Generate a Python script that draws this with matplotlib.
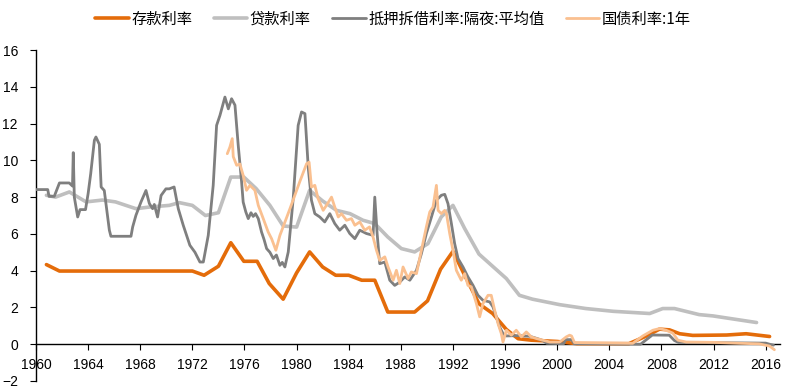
import matplotlib
matplotlib.use("Agg")
import matplotlib.pyplot as plt

plt.rcParams['font.family'] = ['Noto Sans CJK SC', 'DejaVu Sans']

# 存款利率
deposit_year = [1960.8, 1961.8, 1972.0, 1972.9, 1974.0, 1974.95, 1975.95, 1976.97, 1977.9, 1978.97,
                1980.0, 1981.0, 1982.0, 1983.0, 1984.0, 1985.0, 1986.0, 1987.0, 1989.06, 1990.05,
                1991.05, 1992.0, 1992.9, 1994.0, 1995.05, 1996.1, 1997.0, 1998.0, 2000.0, 2001.5,
                2005.5, 2006.06, 2006.83, 2007.85, 2008.62, 2009.4, 2010.4, 2013.0, 2014.5, 2016.3]
deposit_rate = [4.33, 3.98, 3.98, 3.75, 4.24, 5.52, 4.51, 4.51, 3.30, 2.45,
                3.88, 5.02, 4.2, 3.75, 3.75, 3.48, 3.48, 1.75, 1.75, 2.36,
                4.08, 5.05, 3.75, 2.2, 1.67, 0.8, 0.3, 0.22, 0.15, 0.03,
                0.03, 0.2, 0.44, 0.82, 0.78, 0.57, 0.48, 0.5, 0.57, 0.42]

# 贷款利率
loan_year = [1960.8, 1961.5, 1962.56, 1963.84, 1965.1, 1966.1, 1967.67, 1968.7, 1970.23, 1971.0,
             1972.0, 1973.0, 1974.0, 1974.95, 1975.95, 1976.9, 1977.95, 1978.97, 1980.0, 1981.0,
             1982.0, 1983.06, 1984.1, 1985.1, 1986.0, 1987.0, 1988.04, 1989.06, 1990.08, 1991.1,
             1992.0, 1992.9, 1994.0, 1996.1, 1997.1, 1998.1, 2000.2, 2002.2, 2004.3, 2007.1,
             2008.1, 2009.0, 2010.9, 2011.95, 2015.3]
loan_rate = [8.1, 8.0, 8.28, 7.74, 7.84, 7.74, 7.37, 7.46, 7.55, 7.7,
             7.55, 7.0, 7.15, 9.09, 9.09, 8.46, 7.55, 6.43, 6.37, 8.37,
             7.79, 7.28, 7.1, 6.74, 6.56, 5.83, 5.2, 5.02, 5.47, 6.92,
             7.55, 6.29, 4.9, 3.57, 2.66, 2.45, 2.15, 1.94, 1.79, 1.67,
             1.94, 1.94, 1.61, 1.54, 1.18]

# 抵押拆借利率:隔夜:平均值
call_year = [1960.0, 1960.9, 1961.0, 1961.4, 1961.8, 1962.55, 1962.8, 1962.86, 1962.94, 1963.2,
             1963.38, 1963.8, 1964.0, 1964.2, 1964.48, 1964.6, 1964.86, 1965.0, 1965.24, 1965.63,
             1965.75, 1967.29, 1967.42, 1967.67, 1968.06, 1968.44, 1968.7, 1968.95, 1969.08, 1969.33,
             1969.6, 1969.97, 1970.23, 1970.6, 1970.92, 1971.3, 1971.81, 1972.2, 1972.58, 1972.84,
             1973.22, 1973.6, 1973.86, 1974.12, 1974.5, 1974.76, 1975.01, 1975.27, 1975.52, 1975.78,
             1975.9, 1976.1, 1976.29, 1976.5, 1976.67, 1976.85, 1977.06, 1977.31, 1977.5, 1977.7,
             1977.95, 1978.21, 1978.45, 1978.72, 1978.9, 1979.1, 1979.36,
             1979.74, 1980.12, 1980.38, 1980.64, 1980.9, 1981.14, 1981.4, 1981.78, 1982.16, 1982.55,
             1982.93, 1983.31, 1983.7, 1984.08, 1984.47, 1984.85, 1985.36, 1985.87, 1986.0, 1986.18,
             1986.38, 1986.77, 1987.15, 1987.53, 1987.92, 1988.3, 1988.69, 1989.2, 1989.58, 1989.96,
             1990.35, 1990.73, 1991.11, 1991.37, 1991.62, 1991.88, 1992.13, 1992.39, 1992.77, 1993.15,
             1993.54, 1993.92, 1994.3, 1994.82, 1995.07, 1995.33, 1995.58, 1995.84, 1996.1, 1997.0,
             1997.9, 1998.5, 1998.9, 1999.2, 2000.5, 2000.65, 2001.1, 2001.3, 2006.4, 2006.9,
             2007.3, 2008.6, 2009.0, 2009.3, 2016.0, 2016.3, 2016.6]
call_rate = [8.41, 8.41, 8.04, 8.04, 8.77, 8.77, 8.6, 10.42, 8.0, 6.92,
             7.32, 7.32, 8.19, 9.28, 11.09, 11.27, 10.87, 8.55, 8.36, 6.2,
             5.87, 5.87, 6.38, 7.01, 7.74, 8.36, 7.65, 7.37, 7.6, 6.92,
             8.09, 8.45, 8.45, 8.55, 7.37, 6.47, 5.38, 5.0, 4.47, 4.47,
             5.92, 8.64, 11.9, 12.45, 13.44, 12.8, 13.35, 13.0, 10.82, 8.82,
             7.73, 7.2, 6.83, 7.15, 6.95, 7.1, 6.83, 6.1, 5.7, 5.2,
             5.0, 4.66, 4.85, 4.29, 4.45, 4.2, 5.02,
             7.92, 11.9, 12.63, 12.54, 9.55, 7.83, 7.1, 6.92, 6.65, 7.1,
             6.56, 6.2, 6.47, 6.02, 5.74, 6.2, 6.02, 5.92, 8.0, 6.02,
             4.38, 4.47, 3.48, 3.2, 3.38, 3.66, 3.48, 4.02, 4.93, 6.02,
             6.92, 7.83, 8.1, 8.15, 7.64, 6.56, 5.47, 4.66, 4.2, 3.66,
             3.2, 2.66, 2.39, 2.3, 2.03, 1.49, 0.94, 0.58, 0.45, 0.47,
             0.43, 0.3, 0.2, 0.05, 0.03, 0.25, 0.25, 0.03, 0.0, 0.28,
             0.5, 0.49, 0.2, 0.1, 0.06, 0.0, -0.05]

# 国债利率:1年
jgb_year = [1974.68, 1974.88, 1975.06, 1975.14, 1975.4, 1975.65, 1975.9, 1976.16, 1976.42, 1976.8,
            1977.06, 1977.44, 1977.82, 1978.08, 1978.41, 1978.72, 1979.49, 1980.25, 1980.77, 1980.96,
            1981.14, 1981.4, 1981.65, 1982.04, 1982.29, 1982.68, 1982.93, 1983.2, 1983.44, 1983.83,
            1984.21, 1984.47, 1984.85, 1985.23, 1985.6, 1985.87, 1986.13, 1986.38, 1986.77, 1987.02,
            1987.41, 1987.66, 1987.92, 1988.17, 1988.56, 1988.81, 1989.2, 1989.58, 1989.96, 1990.22,
            1990.47, 1990.73, 1990.86, 1991.11, 1991.37, 1991.5, 1991.75, 1992.0, 1992.26, 1992.64,
            1992.9, 1993.15, 1993.41, 1993.8, 1994.05, 1994.3, 1994.69, 1994.94, 1995.2, 1995.46,
            1995.71, 1995.84, 1996.1, 1996.48, 1996.86, 1997.25, 1997.63, 1998.01, 1998.4, 1998.9,
            1999.42, 2000.19, 2000.7, 2000.95, 2001.1, 2001.33, 2005.8, 2006.57, 2007.34, 2007.85,
            2008.36, 2008.88, 2009.26, 2009.9, 2012.0, 2014.0, 2015.5, 2016.3, 2016.67]
jgb_rate = [10.36, 10.72, 11.18, 10.2, 9.73, 9.8, 9.18, 8.37, 8.64, 8.37,
            7.55, 6.83, 6.1, 5.74, 5.11, 5.92, 7.37, 8.85, 9.82, 9.9,
            8.55, 8.64, 7.92, 7.28, 7.55, 8.0, 7.46, 6.92, 7.1, 6.74,
            6.83, 6.47, 6.65, 6.2, 6.38, 5.83, 5.11, 4.56, 4.75, 4.2,
            3.48, 4.02, 3.3, 4.2, 3.57, 3.93, 3.84, 5.11, 6.38, 7.19,
            7.46, 8.64, 7.28, 7.1, 7.28, 7.1, 6.02, 5.11, 4.02, 3.48,
            3.84, 3.2, 3.12, 2.21, 1.49, 2.21, 2.66, 2.66, 1.85, 1.12,
            0.58, 0.12, 0.76, 0.49, 0.76, 0.4, 0.67, 0.4, 0.31, 0.22,
            0.12, 0.12, 0.4, 0.49, 0.45, 0.09, 0.05, 0.45, 0.76, 0.85,
            0.76, 0.6, 0.22, 0.12, 0.1, 0.05, 0.02, -0.1, -0.3]

x_ticks = list(range(1960, 2017, 4))
y_ticks = list(range(-2, 17, 2))

fig = plt.figure(figsize=(7.86, 3.88), dpi=100)
ax = fig.add_axes([36 / 786, 7 / 388, 744 / 786, 331 / 388])

line_kw = dict(solid_joinstyle='round', solid_capstyle='round')
ax.plot(loan_year, loan_rate, color='#BFBFBF', lw=2.6, label='贷款利率', zorder=2, **line_kw)
ax.plot(deposit_year, deposit_rate, color='#E46C0A', lw=2.6, label='存款利率', zorder=3, **line_kw)
ax.plot(call_year, call_rate, color='#7F7F7F', lw=2.0, label='抵押拆借利率:隔夜:平均值', zorder=4, **line_kw)
ax.plot(jgb_year, jgb_rate, color='#FAC090', lw=2.0, label='国债利率:1年', zorder=5, **line_kw)

ax.set_xlim(1960, 2017.1)
ax.set_ylim(-2, 16)
ax.set_xticks(x_ticks)
ax.set_yticks(y_ticks)

ax.spines['top'].set_visible(False)
ax.spines['right'].set_visible(False)
ax.spines['bottom'].set_position(('data', 0))
ax.spines['bottom'].set_linewidth(1.0)
ax.spines['left'].set_linewidth(1.0)
ax.tick_params(axis='x', direction='out', length=4, pad=6, labelsize=10)
ax.tick_params(axis='y', direction='out', length=4, pad=9, labelsize=10)
for lbl in ax.get_xticklabels() + ax.get_yticklabels():
    lbl.set_fontfamily(['Liberation Sans', 'DejaVu Sans'])

handles, labels = ax.get_legend_handles_labels()
order = [1, 0, 2, 3]
fig.legend([handles[i] for i in order], [labels[i] for i in order],
           loc='center', bbox_to_anchor=(0.5, 1 - 19 / 388), ncol=4, frameon=False,
           fontsize=11, handlelength=2.2, handletextpad=0.15, columnspacing=1.4)

fig.savefig('out.png', dpi=100)
